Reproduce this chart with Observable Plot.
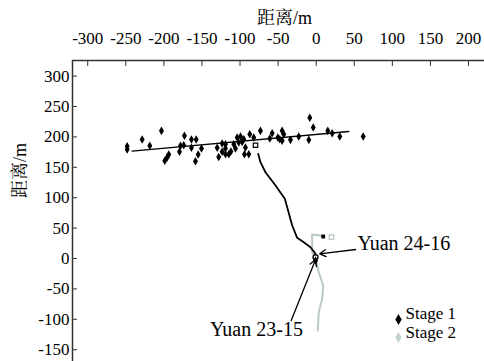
<!DOCTYPE html>
<html><head><meta charset="utf-8">
<script src="https://cdn.jsdelivr.net/npm/d3@7"></script>
<script src="https://cdn.jsdelivr.net/npm/@observablehq/plot@0.6"></script>
<style>
body{margin:0;background:#fff}
#chart{width:484px;height:361px}
#chart svg text { font-family: 'Liberation Serif', 'Noto Serif CJK SC', serif !important; }
</style>
</head><body><div id="chart"></div>
<script>
const xTicks = [-300,-250,-200,-150,-100,-50,0,50,100,150,200];
const yTicks = [300,250,200,150,100,50,0,-50,-100,-150];
const xTitle = "距离/m";
const yTitle = "距离/m";

// Stage 1 scatter (events)
const stage1X = [-248.2,-248.2,-228.5,-218.5,-203.2,-193.6,-195.7,-198.8,-173.0,-178.2,-173.9,-179.5,-163.8,-157.6,-163.8,-150.6,-155.0,-158.5,-130.0,-123.5,-123.5,-119.1,-119.1,-114.8,-119.1,-108.2,-106.0,-103.8,-99.4,-101.7,-97.2,-95.1,-92.9,-94.2,-88.5,-87.2,-82.0,-73.2,-60.9,-57.8,-50.4,-47.8,-44.7,-44.7,-42.6,-33.8,-22.9,-9.7,-8.4,-3.9,15.2,21.0,31.0,61.7,-128.0,-112.0];
const stage1Y = [184.7,179.3,195.7,185.4,210.0,171.1,166.1,160.7,201.8,185.4,186.3,175.5,195.7,195.7,182.1,180.9,171.1,160.0,182.1,189.1,175.5,188.0,171.5,171.5,180.9,188.0,180.9,199.0,200.7,190.8,191.9,196.2,182.6,171.5,171.5,204.4,199.0,210.0,197.4,206.1,199.0,196.2,193.6,210.0,204.4,195.2,200.7,195.2,231.4,215.5,210.0,206.1,200.7,200.7,167.0,176.0];

// fitted trend line
const trendX = [-241.7, 42.8];
const trendY = [176.5, 208.9];

// Stage 1 well path
const well1X = [-76.2,-73.2,-66.6,-53.4,-41.2,-38.1,-31.5,-25.0,-16.3,-7.5,-0.9];
const well1Y = [172.2,158.4,141.9,120.1,98.2,84.4,54.3,34.0,26.8,18.6,7.7];

// Stage 2 well path
const well2X = [5.6,-5.3,-5.3,-0.9,3.4,9.2,7.9,3.4,2.1];
const well2Y = [37.8,39.5,10.4,1.6,-22.5,-44.4,-66.3,-88.3,-118.4];

// well markers
const headX = [-79.7];  const headY = [186.3];
const circX = [-0.9];   const circY = [2.1];
const starX = [-0.9];   const starY = [-3.3];
const sqBX = [9.2];     const sqBY = [36.2];
const sqGX = [20.1];    const sqGY = [35.0];

// annotations
const labels = ["Yuan 24-16", "Yuan 23-15"];
const labelX = [54.2, -78.4];
const labelY = [24.7, -116.8];
const labelAnchor = ["start", "middle"];
const arrowX1 = [51.9, -32.8], arrowY1 = [14.8, -102];
const arrowX2 = [4.7, -0.9],   arrowY2 = [7.7, -2.1];

const legendLabels = ["Stage 1", "Stage 2"];
const legendColors = ["#000000", "#c3d1d1"];

const black = "#000";
const grey = "#b9c8c8";

const pts = (xs, ys) => xs.map((x, i) => ({x, y: ys[i]}));
const s1 = pts(stage1X, stage1Y);
const trend = pts(trendX, trendY);
const w1 = pts(well1X, well1Y);
const w2 = pts(well2X, well2Y);
const ann = labels.map((t, i) => ({t, x: labelX[i], y: labelY[i], a: labelAnchor[i]}));
const arr = arrowX1.map((x1, i) => ({x1, y1: arrowY1[i], x2: arrowX2[i], y2: arrowY2[i]}));
const leg = legendLabels.map((t, i) => ({t, c: legendColors[i], i}));

const xDom = [-320, 221];
const yDom = [-169.4, 325.7];

const chart = Plot.plot({
  width: 484, height: 361,
  marginLeft: 72, marginTop: 60, marginRight: 0, marginBottom: 0,
  style: {fontFamily: "serif", background: "#fff", color: "#000"},
  x: {domain: xDom},
  y: {domain: yDom},
  marks: [
    Plot.ruleX([xDom[0]], {stroke: "#333", strokeWidth: 1.5}),
    Plot.ruleY([yDom[1]], {stroke: "#333", strokeWidth: 1.5}),
    Plot.axisX({anchor: "top", ticks: xTicks, tickFormat: d => String(d), tickSize: -5, tickPadding: 22, label: null, fontSize: 17, stroke: "#333"}),
    Plot.axisY({anchor: "left", ticks: yTicks, tickFormat: d => String(d), tickSize: -5, tickPadding: 8, label: null, fontSize: 17, stroke: "#333"}),
    Plot.text([xTitle], {frameAnchor: "top", text: d => d, dy: -37, dx: 6, lineAnchor: "bottom", fontSize: 18}),
    Plot.text([yTitle], {frameAnchor: "left", text: d => d, dx: -52, dy: -13, rotate: -90, fontSize: 18}),
    Plot.line(w2, {x: "x", y: "y", stroke: grey, strokeWidth: 2}),
    Plot.line(w1, {x: "x", y: "y", stroke: black, strokeWidth: 1.8}),
    Plot.line(trend, {x: "x", y: "y", stroke: black, strokeWidth: 1.3}),
    Plot.dot(s1, {x: "x", y: "y", symbol: "diamond", r: 2.6, fill: black}),
    Plot.dot(pts(headX, headY), {x: "x", y: "y", symbol: "square", r: 2.5, stroke: black, fill: "#fff", strokeWidth: 1.2}),
    Plot.dot(pts(sqGX, sqGY), {x: "x", y: "y", symbol: "square", r: 2.5, stroke: grey, fill: "#fff", strokeWidth: 1.3}),
    Plot.dot(pts(sqBX, sqBY), {x: "x", y: "y", symbol: "square", r: 2.2, fill: black}),
    Plot.dot(pts(circX, circY), {x: "x", y: "y", r: 2.5, stroke: black, fill: "#fff", strokeWidth: 1.3}),
    Plot.dot(pts(starX, starY), {x: "x", y: "y", symbol: "diamond", r: 2.6, fill: black}),
    Plot.arrow(arr, {x1: "x1", y1: "y1", x2: "x2", y2: "y2", stroke: black, strokeWidth: 1.3, headLength: 8}),
    Plot.text(ann, {x: "x", y: "y", text: "t", textAnchor: "start", filter: d => d.a === "start", fontSize: 20, fill: black}),
    Plot.text(ann, {x: "x", y: "y", text: "t", textAnchor: "middle", filter: d => d.a === "middle", fontSize: 20, fill: black}),
    Plot.dot(leg.slice(0,1), {frameAnchor: "bottom-right", dx: -86, dy: -42, symbol: "diamond", r: 3.3, fill: "c"}),
    Plot.dot(leg.slice(1,2), {frameAnchor: "bottom-right", dx: -86, dy: -24, symbol: "diamond", r: 3.3, fill: "c"}),
    Plot.text(leg.slice(0,1), {frameAnchor: "bottom-right", dx: -79, dy: -43, text: "t", textAnchor: "start", fontSize: 17, fill: black}),
    Plot.text(leg.slice(1,2), {frameAnchor: "bottom-right", dx: -79, dy: -24, text: "t", textAnchor: "start", fontSize: 17, fill: black})
  ]
});
document.getElementById("chart").appendChild(chart);
</script>
</body></html>
